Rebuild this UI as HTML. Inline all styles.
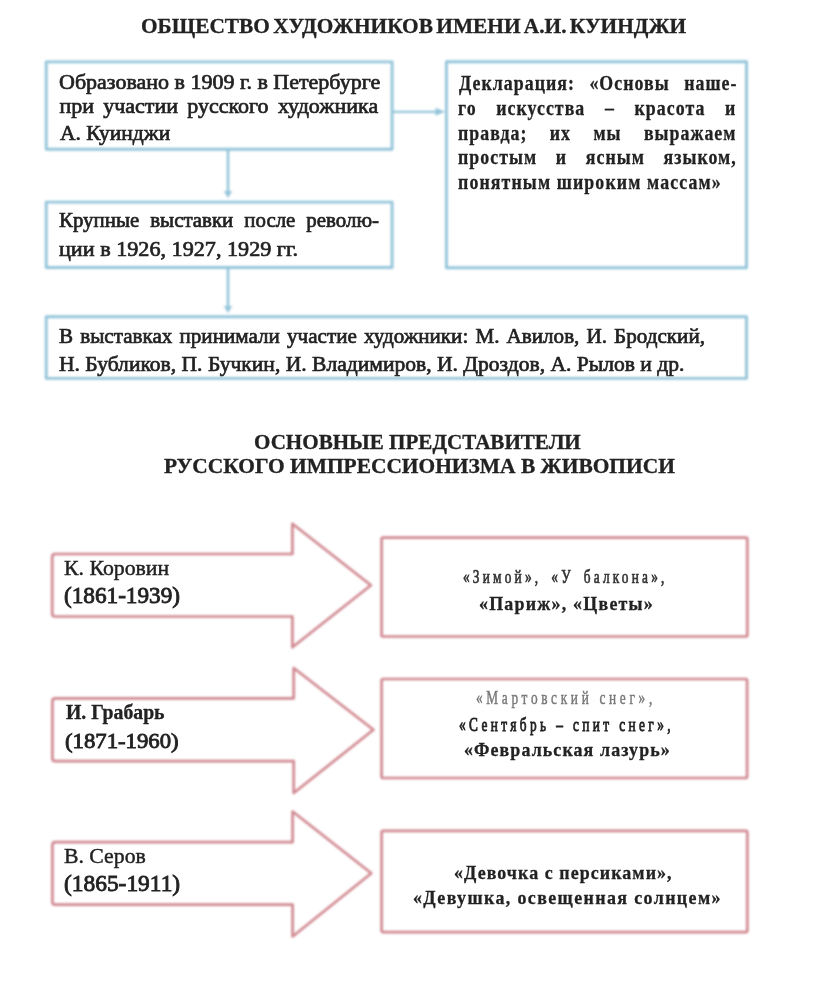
<!DOCTYPE html>
<html><head><meta charset="utf-8">
<style>
html,body{margin:0;padding:0;background:#fff;width:816px;height:982px;overflow:hidden}
.t{position:absolute;white-space:nowrap;transform-origin:0 0;color:#222;-webkit-text-stroke:0.7px currentColor;filter:blur(0.35px)}
.b{-webkit-text-stroke:0.3px currentColor}
.h{-webkit-text-stroke:0.85px currentColor}
.l{-webkit-text-stroke:0.45px currentColor}
svg{position:absolute;left:0;top:0;filter:blur(0.9px)}
</style></head><body>
<svg width="816" height="982" viewBox="0 0 816 982">
<g fill="none" stroke="#94c5da" stroke-width="2.9" stroke-linejoin="round">
<rect x="46.2" y="61.9" width="345.9" height="87.4"/>
<rect x="446.4" y="61.8" width="300.1" height="205.9"/>
<rect x="46.2" y="202.1" width="345.9" height="65.4"/>
<rect x="46.2" y="316.8" width="700.3" height="61.6"/>
<line x1="392" y1="111.8" x2="440" y2="111.8" stroke-width="2.3"/>
<line x1="228" y1="149.3" x2="228" y2="195" stroke-width="2.6"/>
<line x1="228" y1="267.5" x2="228" y2="310" stroke-width="2.6"/>
</g>
<g fill="#94c5da">
<path d="M445 111.8 L435.5 107.8 L435.5 115.8 Z"/>
<path d="M228 198 L223.8 191 L232.2 191 Z"/>
<path d="M228 313 L223.8 306 L232.2 306 Z"/>
</g>
<g fill="none" stroke="#d08890" stroke-width="2.7" stroke-linejoin="round">
<path d="M55 554 H292.4 V523.7 L370.9 585.3 L292.4 647.3 V616.5 H55 Q52.2 616.5 52.2 613.5 V557 Q52.2 554 55 554 Z"/>
<path d="M55.2 698.3 H293.7 V668 L373.4 729.8 L293.7 793 V761.2 H55.2 Q52.4 761.2 52.4 758.2 V701.3 Q52.4 698.3 55.2 698.3 Z"/>
<path d="M55.2 842.2 H292.6 V811.5 L371.3 873.3 L292.6 936.5 V904.7 H55.2 Q52.4 904.7 52.4 901.7 V845.2 Q52.4 842.2 55.2 842.2 Z"/>
<rect x="381.6" y="537.7" width="365.7" height="98.8" rx="1.5"/>
<rect x="381.6" y="679" width="365.5" height="99" rx="1.5"/>
<rect x="381.6" y="830.8" width="365.7" height="101.3" rx="1.5"/>
</g>
</svg>
<div class="t b" style="left:141.03px;top:15.30px;font-family:'Liberation Serif',serif;font-size:22px;font-weight:700;line-height:22px;letter-spacing:0px;word-spacing:-2.04px;color:#222;transform:scaleX(0.9700)">ОБЩЕСТВО ХУДОЖНИКОВ ИМЕНИ А.И. КУИНДЖИ</div>
<div class="t" style="left:59.40px;top:70.90px;font-family:'Liberation Serif',serif;font-size:22px;font-weight:400;line-height:22px;letter-spacing:0px;word-spacing:0.00px;color:#222;transform:scaleX(0.9997)">Образовано в 1909 г. в Петербурге</div>
<div class="t" style="left:59.40px;top:95.40px;font-family:'Liberation Serif',serif;font-size:22px;font-weight:400;line-height:22px;letter-spacing:0px;word-spacing:3.80px;color:#222;transform:scaleX(1.0000)">при участии русского художника</div>
<div class="t" style="left:60.40px;top:121.80px;font-family:'Liberation Serif',serif;font-size:22px;font-weight:400;line-height:22px;letter-spacing:0px;word-spacing:0.00px;color:#222;transform:scaleX(0.9786)">А. Куинджи</div>
<div class="t" style="left:59.45px;top:209.00px;font-family:'Liberation Serif',serif;font-size:22px;font-weight:400;line-height:22px;letter-spacing:0px;word-spacing:6.05px;color:#222;transform:scaleX(0.9500)">Крупные выставки после револю-</div>
<div class="t" style="left:59.39px;top:237.80px;font-family:'Liberation Serif',serif;font-size:22px;font-weight:400;line-height:22px;letter-spacing:0px;word-spacing:0.00px;color:#222;transform:scaleX(1.0077)">ции в 1926, 1927, 1929 гг.</div>
<div class="t" style="left:59.44px;top:324.60px;font-family:'Liberation Serif',serif;font-size:22px;font-weight:400;line-height:22px;letter-spacing:0px;word-spacing:1.88px;color:#222;transform:scaleX(0.9600)">В выставках принимали участие художники: М. Авилов, И. Бродский,</div>
<div class="t" style="left:59.42px;top:352.80px;font-family:'Liberation Serif',serif;font-size:22px;font-weight:400;line-height:22px;letter-spacing:0px;word-spacing:0.00px;color:#222;transform:scaleX(0.9800)">Н. Бубликов, П. Бучкин, И. Владимиров, И. Дроздов, А. Рылов и др.</div>
<div class="t b" style="left:458.50px;top:72.80px;font-family:'Liberation Serif',serif;font-size:21px;font-weight:700;line-height:21px;letter-spacing:1.2px;word-spacing:10.65px;color:#222;transform:scaleX(0.8500)">Декларация: «Основы наше-</div>
<div class="t b" style="left:458.15px;top:98.10px;font-family:'Liberation Serif',serif;font-size:21px;font-weight:700;line-height:21px;letter-spacing:1.2px;word-spacing:16.68px;color:#222;transform:scaleX(0.8500)">го искусства – красота и</div>
<div class="t b" style="left:458.15px;top:122.80px;font-family:'Liberation Serif',serif;font-size:21px;font-weight:700;line-height:21px;letter-spacing:1.2px;word-spacing:19.90px;color:#222;transform:scaleX(0.8500)">правда; их мы выражаем</div>
<div class="t b" style="left:458.15px;top:146.80px;font-family:'Liberation Serif',serif;font-size:21px;font-weight:700;line-height:21px;letter-spacing:1.2px;word-spacing:15.57px;color:#222;transform:scaleX(0.8500)">простым и ясным языком,</div>
<div class="t b" style="left:458.15px;top:172.00px;font-family:'Liberation Serif',serif;font-size:21px;font-weight:700;line-height:21px;letter-spacing:1.3069053708439904px;word-spacing:0.00px;color:#222;transform:scaleX(0.8500)">понятным широким массам»</div>
<div class="t b" style="left:254.40px;top:432.00px;font-family:'Liberation Serif',serif;font-size:21px;font-weight:700;line-height:21px;letter-spacing:0px;word-spacing:0.00px;color:#222;transform:scaleX(1.0034)">ОСНОВНЫЕ ПРЕДСТАВИТЕЛИ</div>
<div class="t b" style="left:163.50px;top:456.20px;font-family:'Liberation Serif',serif;font-size:21px;font-weight:700;line-height:21px;letter-spacing:0px;word-spacing:0.00px;color:#222;transform:scaleX(1.0202)">РУССКОГО ИМПРЕССИОНИЗМА В ЖИВОПИСИ</div>
<div class="t l" style="left:64.01px;top:557.00px;font-family:'Liberation Serif',serif;font-size:22px;font-weight:400;line-height:22px;letter-spacing:0px;word-spacing:0.00px;color:#222;transform:scaleX(0.9905)">К. Коровин</div>
<div class="t h" style="left:63.99px;top:583.70px;font-family:'Liberation Serif',serif;font-size:23px;font-weight:400;line-height:23px;letter-spacing:0px;word-spacing:0.00px;color:#222;transform:scaleX(1.0088)">(1861-1939)</div>
<div class="t b" style="left:66.10px;top:702.00px;font-family:'Liberation Serif',serif;font-size:20px;font-weight:700;line-height:20px;letter-spacing:0px;word-spacing:0.00px;color:#222;transform:scaleX(0.9870)">И. Грабарь</div>
<div class="t h" style="left:64.97px;top:730.00px;font-family:'Liberation Serif',serif;font-size:22px;font-weight:400;line-height:22px;letter-spacing:0px;word-spacing:0.00px;color:#222;transform:scaleX(1.0333)">(1871-1960)</div>
<div class="t l" style="left:64.01px;top:844.50px;font-family:'Liberation Serif',serif;font-size:22px;font-weight:400;line-height:22px;letter-spacing:0px;word-spacing:0.00px;color:#222;transform:scaleX(0.9877)">В. Серов</div>
<div class="t h" style="left:63.98px;top:871.80px;font-family:'Liberation Serif',serif;font-size:23px;font-weight:400;line-height:23px;letter-spacing:0px;word-spacing:0.00px;color:#222;transform:scaleX(1.0179)">(1865-1911)</div>
<div class="t" style="left:463.30px;top:566.50px;font-family:'Liberation Serif',serif;font-size:19px;font-weight:400;line-height:19px;letter-spacing:4.6px;word-spacing:4.86px;color:#333;transform:scaleX(0.7000)">«Зимой», «У балкона»,</div>
<div class="t b" style="left:478.68px;top:593.80px;font-family:'Liberation Serif',serif;font-size:19.5px;font-weight:700;line-height:19.5px;letter-spacing:1.3231884057970986px;word-spacing:0.00px;color:#222;transform:scaleX(0.9200)">«Париж», «Цветы»</div>
<div class="t l" style="left:476.10px;top:688.10px;font-family:'Liberation Serif',serif;font-size:19px;font-weight:400;line-height:19px;letter-spacing:5.2605042016806705px;word-spacing:0.00px;color:#777;transform:scaleX(0.7000)">«Мартовский снег»,</div>
<div class="t h" style="left:459.30px;top:714.60px;font-family:'Liberation Serif',serif;font-size:19px;font-weight:400;line-height:19px;letter-spacing:4.850649350649348px;word-spacing:0.00px;color:#222;transform:scaleX(0.7000)">«Сентябрь – спит снег»,</div>
<div class="t b" style="left:463.58px;top:740.30px;font-family:'Liberation Serif',serif;font-size:19.5px;font-weight:700;line-height:19.5px;letter-spacing:1.1796338672768898px;word-spacing:0.00px;color:#222;transform:scaleX(0.9200)">«Февральская лазурь»</div>
<div class="t b" style="left:453.68px;top:862.50px;font-family:'Liberation Serif',serif;font-size:19.5px;font-weight:700;line-height:19.5px;letter-spacing:1.1532091097308474px;word-spacing:0.00px;color:#222;transform:scaleX(0.9200)">«Девочка с персиками»,</div>
<div class="t b" style="left:413.08px;top:888.30px;font-family:'Liberation Serif',serif;font-size:19.5px;font-weight:700;line-height:19.5px;letter-spacing:1.5023291925465834px;word-spacing:0.00px;color:#222;transform:scaleX(0.9200)">«Девушка, освещенная солнцем»</div>
</body></html>
